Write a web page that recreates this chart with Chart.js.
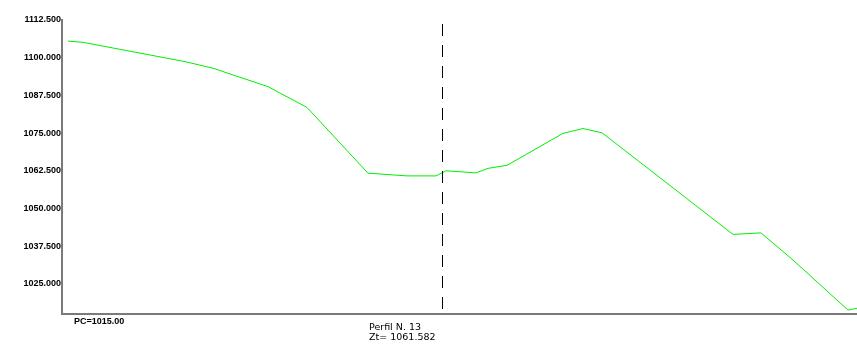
<!DOCTYPE html>
<html>
<head>
<meta charset="utf-8">
<script src="https://cdn.jsdelivr.net/npm/chart.js@4.4.1/dist/chart.umd.min.js"></script>
<style>
  html, body { margin: 0; padding: 0; background: #fff; }
  #wrap { position: relative; width: 857px; height: 361px; }
</style>
</head>
<body>
<div id="wrap"><canvas id="profile"></canvas></div>
<script>
// distance along the profile (m), 0 = profile axis
const distances = [-37.4, -35.9, -25.7, -22.9, -17.4, -13.5, -7.4, -3.5, -0.6, 0.4, 3.4, 4.6, 6.5, 12.1, 14.1, 16.0, 29.1, 31.9, 35.1, 40.6, 41.5];
const elevations = [1105.5, 1105.1, 1098.7, 1096.5, 1090.4, 1083.5, 1061.7, 1060.8, 1060.8, 1062.5, 1061.8, 1063.3, 1064.3, 1074.9, 1076.5, 1075.1, 1041.4, 1041.9, 1032.9, 1016.3, 1016.9];
const yTicks = [1025, 1037.5, 1050, 1062.5, 1075, 1087.5, 1100, 1112.5];

const datumLabel = "PC=1015.00";
const profileLabel = "Perfil N. 13";
const groundLabel = "Zt= 1061.582";
const axisDistance = 0;

const tickFont = "'Liberation Sans', sans-serif";

const annotations = {
  id: "annotations",
  afterDatasetsDraw(chart) {
    const { ctx, chartArea, scales } = chart;
    const x = Math.round(scales.x.getPixelForValue(axisDistance)) + 0.5;
    ctx.save();
    ctx.strokeStyle = "#000";
    ctx.lineWidth = 1;
    ctx.setLineDash([12, 9]);
    ctx.beginPath();
    ctx.moveTo(x, chartArea.top + 4);
    ctx.lineTo(x, chartArea.bottom);
    ctx.stroke();
    ctx.setLineDash([]);

    ctx.fillStyle = "#000";
    ctx.textBaseline = "middle";
    ctx.textAlign = "left";
    ctx.font = "bold 9px " + tickFont;
    ctx.fillText(datumLabel, chartArea.left + 12, chartArea.bottom + 8);

    ctx.font = "9.5px 'DejaVu Sans', sans-serif";
    ctx.fillText(profileLabel, 369, 328);
    ctx.fillText(groundLabel, 369, 338);
    ctx.restore();
  },
};

new Chart(document.getElementById("profile"), {
  type: "line",
  data: {
    datasets: [{
      data: distances.map((d, i) => ({ x: d, y: elevations[i] })),
      borderColor: "#00ee00",
      borderWidth: 1,
      pointRadius: 0,
      tension: 0,
      fill: false,
    }],
  },
  options: {
    responsive: true,
    maintainAspectRatio: false,
    animation: false,
    layout: { padding: { top: 20, right: 0, bottom: 47, left: 0 } },
    plugins: { legend: { display: false }, tooltip: { enabled: false } },
    scales: {
      x: {
        type: "linear",
        min: -38,
        max: 41.5,
        ticks: { display: false },
        grid: { display: false, drawTicks: false },
        border: { display: true, color: "#7a7a7a", width: 2 },
        afterFit(scale) { scale.height = 0; },
      },
      y: {
        min: 1015,
        max: 1112.5,
        afterBuildTicks(scale) { scale.ticks = yTicks.map((v) => ({ value: v })); },
        ticks: {
          color: "#000",
          padding: 1,
          font: { family: tickFont, size: 9, weight: "bold" },
          callback: (v) => Number(v).toFixed(3),
        },
        grid: { display: false, drawTicks: false },
        border: { display: true, color: "#7a7a7a", width: 2 },
        afterFit(scale) { scale.width = 62; },
      },
    },
  },
  plugins: [annotations],
});
</script>
</body>
</html>
